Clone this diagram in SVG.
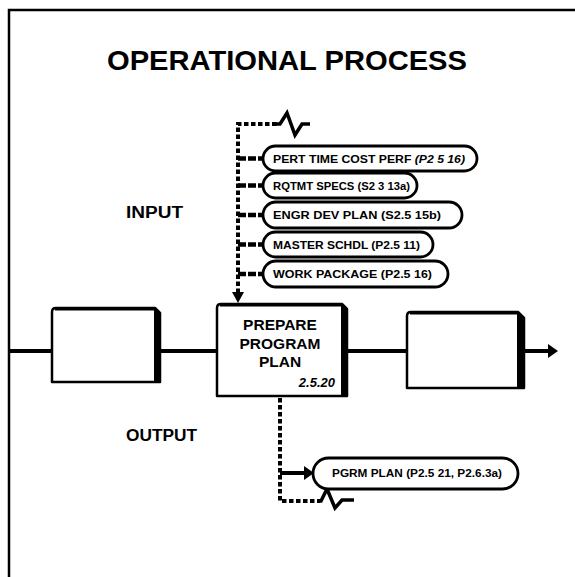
<svg xmlns="http://www.w3.org/2000/svg" width="575" height="577" viewBox="0 0 575 577">
<style>
.t{font-family:"Liberation Sans",Arial,sans-serif;font-weight:bold;fill:#000}
.pill{fill:#fff;stroke:#000;stroke-width:2.8}
.box{fill:#fff;stroke:#000;stroke-width:2.5;stroke-linejoin:round}
.side{fill:#000}
.dash{fill:none;stroke:#000;stroke-width:4;stroke-dasharray:4.5 2.5}
.solid{fill:none;stroke:#000;stroke-width:4}
.zig{fill:none;stroke:#000;stroke-width:3.5;stroke-linejoin:miter}
.stub{fill:none;stroke:#000;stroke-width:4.5;stroke-dasharray:8 2}
</style>
<rect width="575" height="577" fill="#fff"/>
<g id="frame">
<path d="M575 10 H9 V577" fill="none" stroke="#000" stroke-width="2.5"/>
</g>
<g id="title">
<text class="t" x="107" y="70" font-size="28" textLength="360" lengthAdjust="spacingAndGlyphs">OPERATIONAL PROCESS</text>
</g>
<g id="labels">
<text class="t" x="126" y="218" font-size="16" textLength="57" lengthAdjust="spacingAndGlyphs">INPUT</text>
<text class="t" x="126" y="441" font-size="16" textLength="71" lengthAdjust="spacingAndGlyphs">OUTPUT</text>
</g>
<g id="connectors">
<path class="dash" d="M238 293 V124 H278"/>
<path class="zig" d="M276 124 H280 L287 113 L295 135 L302 124 H310"/>
<polygon points="232,292 244,292 238,303" fill="#000"/>
<path class="stub" d="M238 158.5 H263 M238 185.5 H263 M238 215 H263 M238 244.5 H263 M238 274 H263"/>
<path class="solid" d="M9 351 H52 M160 351 H217 M347 351 H407 M525 351 H550"/>
<polygon points="548,344 558,351 548,358" fill="#000"/>
<path class="dash" d="M280 398 V501 H320"/>
<path class="zig" d="M318 501 H321 L327 489 L335 508 L342 500 H354"/>
<path class="solid" d="M280 473 H306"/>
<polygon points="304,466 314,473 304,480" fill="#000"/>
</g>
<g id="input-pert">
<rect class="pill" x="263" y="146" width="214" height="25" rx="12.5"/>
<text class="t" x="273" y="162.5" font-size="10.5" textLength="192" lengthAdjust="spacingAndGlyphs">PERT TIME COST PERF <tspan font-style="italic">(P2 5 16)</tspan></text>
</g>
<g id="input-rqtmt">
<rect class="pill" x="263" y="173" width="154" height="25" rx="12.5"/>
<text class="t" x="273" y="189.5" font-size="10.5" textLength="137" lengthAdjust="spacingAndGlyphs">RQTMT SPECS (S2 3 13a)</text>
</g>
<g id="input-engr">
<rect class="pill" x="263" y="202" width="199" height="26" rx="13"/>
<text class="t" x="273" y="219" font-size="10.5" textLength="168" lengthAdjust="spacingAndGlyphs">ENGR DEV PLAN (S2.5 15b)</text>
</g>
<g id="input-master">
<rect class="pill" x="263" y="232" width="170" height="25" rx="12.5"/>
<text class="t" x="273" y="248.5" font-size="10.5" textLength="147" lengthAdjust="spacingAndGlyphs">MASTER SCHDL (P2.5 11)</text>
</g>
<g id="input-work">
<rect class="pill" x="263" y="261" width="185" height="26" rx="13"/>
<text class="t" x="273" y="278" font-size="10.5" textLength="159" lengthAdjust="spacingAndGlyphs">WORK PACKAGE (P2.5 16)</text>
</g>
<g id="box-left">
<path class="box" d="M52 312 Q52 308 56 308 H155 L160 313 V382 H52 Z"/>
<polygon class="side" points="154,308 160,313 160,382 154,382"/>
<path d="M55 309 H155" stroke="#000" stroke-width="3"/>
</g>
<g id="box-main">
<path class="box" d="M217 308 Q217 304 221 304 H342 L347 309 V396 H217 Z"/>
<polygon class="side" points="341,304 347,309 347,396 341,396"/>
<path d="M220 305 H342" stroke="#000" stroke-width="3"/>
<text class="t" x="280" y="330" font-size="15.5" text-anchor="middle">PREPARE</text>
<text class="t" x="280" y="348.5" font-size="15.5" text-anchor="middle">PROGRAM</text>
<text class="t" x="280" y="366.5" font-size="15.5" text-anchor="middle">PLAN</text>
<text class="t" x="335" y="387" font-size="13" font-style="italic" text-anchor="end">2.5.20</text>
</g>
<g id="box-right">
<path class="box" d="M407 316 Q407 312 411 312 H518 L524 318 V388 H407 Z"/>
<polygon class="side" points="517,312 524,318 524,388 517,388"/>
<path d="M410 313 H518" stroke="#000" stroke-width="3"/>
</g>
<g id="output-pgrm">
<rect class="pill" x="313" y="458" width="205" height="31" rx="15.5"/>
<text class="t" x="332" y="477" font-size="10" textLength="170" lengthAdjust="spacingAndGlyphs">PGRM PLAN (P2.5 21, P2.6.3a)</text>
</g>
</svg>
